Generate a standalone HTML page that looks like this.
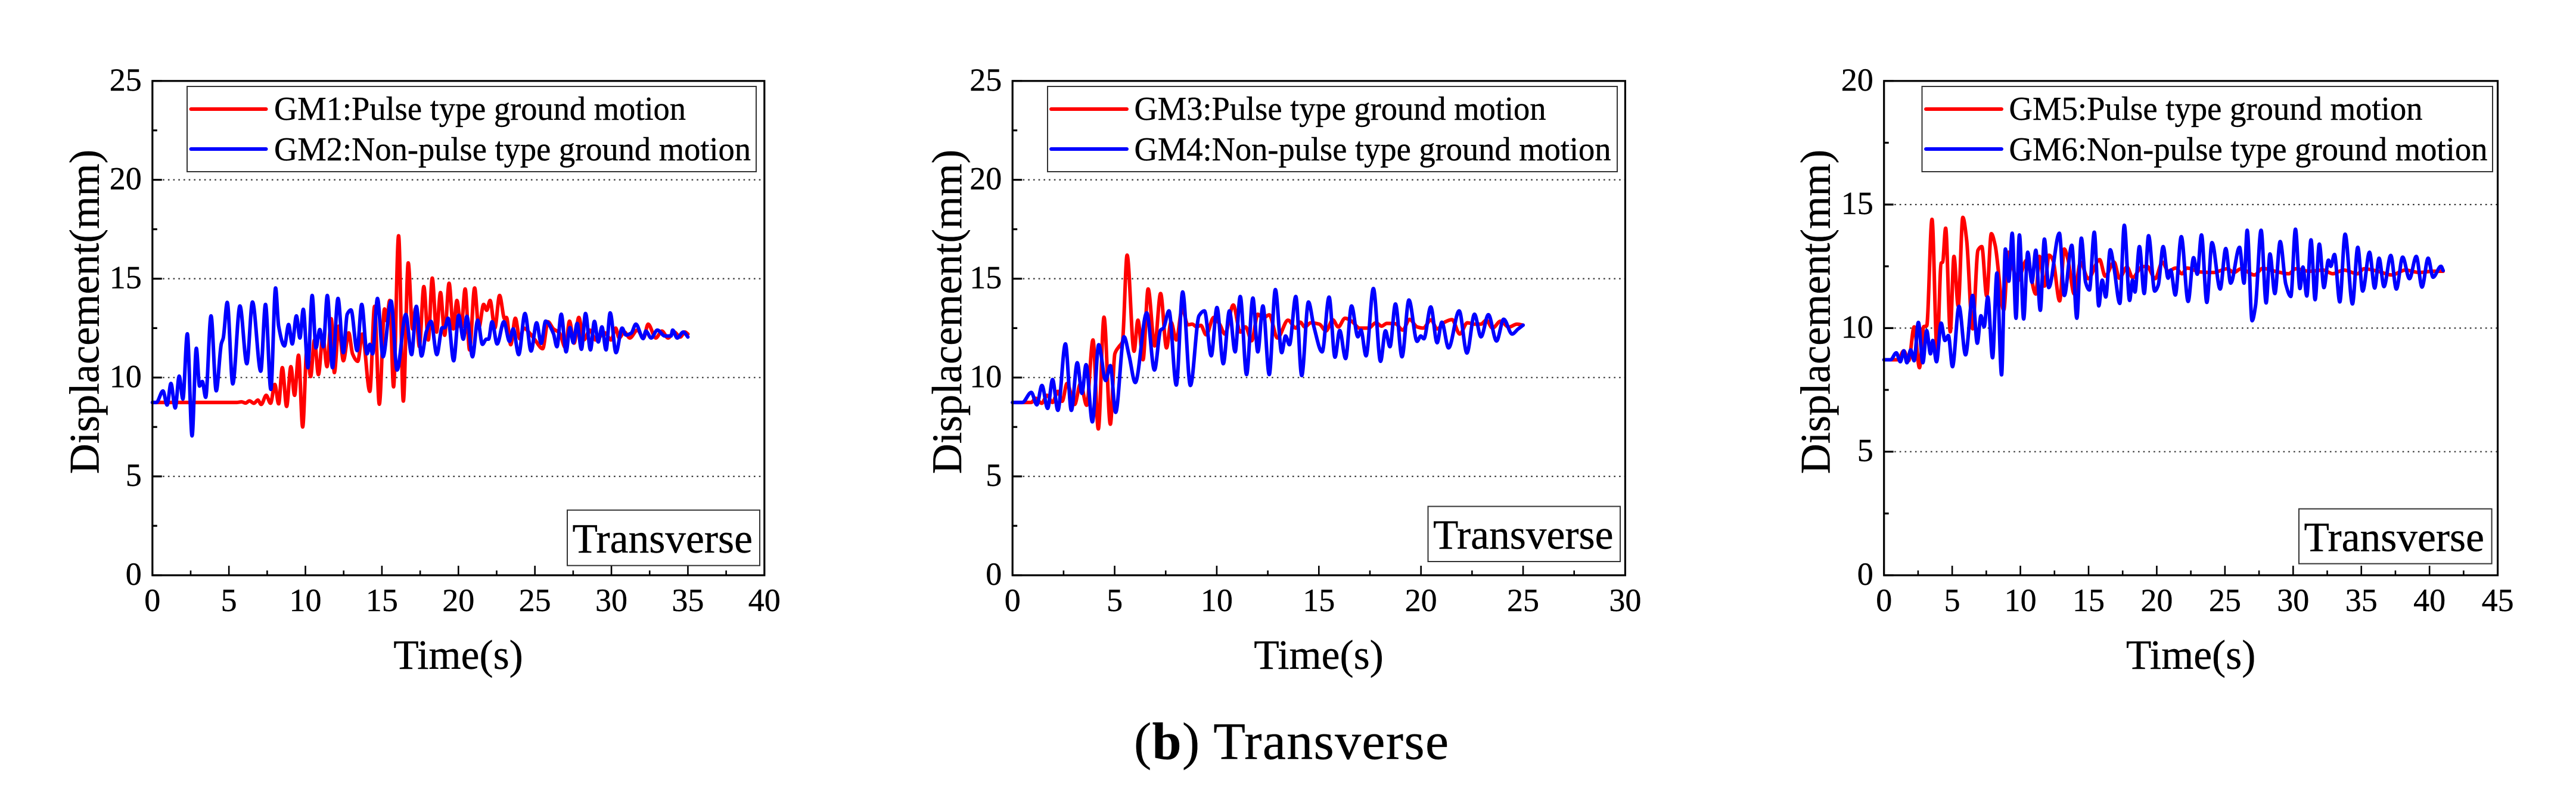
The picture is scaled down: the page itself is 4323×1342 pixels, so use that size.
<!DOCTYPE html>
<html lang="en">
<head>
<meta charset="utf-8">
<title>Transverse displacement time histories</title>
<style>
html,body{margin:0;padding:0;background:#fff;}
svg{display:block;font-family:"Liberation Serif",serif;}
text{fill:#000;stroke:#000;stroke-width:0.4;}
.leg{font-size:56.5px;}
.tr{font-size:69.5px;}
.ax{font-size:69.5px;}
.ayt{font-size:70.5px;}
.box{fill:#fff;stroke:#333;stroke-width:2;}
.tick{font-size:54px;}
</style>
</head>
<body>
<svg id="figure" width="4323" height="1342" viewBox="0 0 4323 1342" xmlns="http://www.w3.org/2000/svg">
  <rect width="4323" height="1342" fill="#fff"/>

  <g id="panel-1">
    <g id="p1-grid"></g>
    <g id="p1-series"></g>
    <rect id="p1-frame" x="255.8" y="135.8" width="1027" height="829.2" fill="none" stroke="#000" stroke-width="3.2"/>
    <g id="p1-ticks"></g>
    <g>
      <rect class="box" x="314" y="145" width="955" height="143"/>
      <line x1="320.5" x2="446.5" y1="183" y2="183" stroke="#f00" stroke-width="6" stroke-linecap="round"/>
      <text class="leg" x="460" y="201" textLength="691" lengthAdjust="spacingAndGlyphs">GM1:Pulse type ground motion</text>
      <line x1="320.5" x2="446.5" y1="250" y2="250" stroke="#00f" stroke-width="6" stroke-linecap="round"/>
      <text class="leg" x="460" y="269" textLength="800" lengthAdjust="spacingAndGlyphs">GM2:Non-pulse type ground motion</text>
    </g>
    <rect class="box" x="952" y="855.7" width="323" height="93"/>
    <text class="tr" x="960.5" y="927">Transverse</text>
    <text class="ayt" transform="translate(165.5 523) rotate(-90)" text-anchor="middle">Displacement(mm)</text>
    <text class="ax" x="769" y="1122" text-anchor="middle">Time(s)</text>
  </g>

  <g id="panel-2">
    <g id="p2-grid"></g>
    <g id="p2-series"></g>
    <rect x="1699.2" y="135.8" width="1028.2" height="829.2" fill="none" stroke="#000" stroke-width="3.2"/>
    <g id="p2-ticks"></g>
    <g>
      <rect class="box" x="1758" y="145" width="956" height="143"/>
      <line x1="1764" x2="1891" y1="183" y2="183" stroke="#f00" stroke-width="6" stroke-linecap="round"/>
      <text class="leg" x="1903.5" y="201" textLength="691" lengthAdjust="spacingAndGlyphs">GM3:Pulse type ground motion</text>
      <line x1="1764" x2="1891" y1="250" y2="250" stroke="#00f" stroke-width="6" stroke-linecap="round"/>
      <text class="leg" x="1903.5" y="269" textLength="800" lengthAdjust="spacingAndGlyphs">GM4:Non-pulse type ground motion</text>
    </g>
    <rect class="box" x="2396.5" y="849.5" width="322.5" height="92.5"/>
    <text class="tr" x="2405" y="920.5">Transverse</text>
    <text class="ayt" transform="translate(1613 523) rotate(-90)" text-anchor="middle">Displacement(mm)</text>
    <text class="ax" x="2213" y="1122" text-anchor="middle">Time(s)</text>
  </g>

  <g id="panel-3">
    <g id="p3-grid"></g>
    <g id="p3-series"></g>
    <rect x="3161.7" y="135.8" width="1029.9" height="829.2" fill="none" stroke="#000" stroke-width="3.2"/>
    <g id="p3-ticks"></g>
    <g>
      <rect class="box" x="3225.5" y="145" width="957.5" height="143"/>
      <line x1="3232" x2="3359" y1="183" y2="183" stroke="#f00" stroke-width="6" stroke-linecap="round"/>
      <text class="leg" x="3371.5" y="201" textLength="694" lengthAdjust="spacingAndGlyphs">GM5:Pulse type ground motion</text>
      <line x1="3232" x2="3359" y1="250" y2="250" stroke="#00f" stroke-width="6" stroke-linecap="round"/>
      <text class="leg" x="3371.5" y="269" textLength="803" lengthAdjust="spacingAndGlyphs">GM6:Non-pulse type ground motion</text>
    </g>
    <rect class="box" x="3858" y="853.6" width="323.6" height="92"/>
    <text class="tr" x="3866.5" y="924.5">Transverse</text>
    <text class="ayt" transform="translate(3070.5 523) rotate(-90)" text-anchor="middle">Displacement(mm)</text>
    <text class="ax" x="3676.6" y="1122" text-anchor="middle">Time(s)</text>
  </g>

  <text x="1903" y="1273" font-size="88" textLength="528">(<tspan font-weight="bold">b</tspan>) Transverse</text>
</svg>

<script>
// ---- Chart data (seconds, millimetres) ----
const gm1Time = [0,5.53,5.83,6.09,6.34,6.64,6.89,7.11,7.44,7.72,8.0,8.25,8.49,8.77,9.05,9.29,9.55,9.82,10.1,10.34,10.59,10.85,11.14,11.41,11.69,11.89,12.18,12.48,12.83,13.08,13.42,13.72,14.21,14.52,14.83,15.17,15.31,15.51,15.76,16.09,16.4,16.72,17.0,17.2,17.45,17.74,18.03,18.29,18.57,18.83,19.1,19.39,19.67,19.9,20.18,20.44,20.73,21.06,21.33,21.65,21.85,22.07,22.38,22.69,23.02,23.14,23.42,23.72,24.01,24.27,24.71,25.01,25.51,25.85,26.21,26.6,27.0,27.26,27.56,27.87,28.19,28.59,28.97,29.58,29.98,30.28,30.5,30.85,31.2,31.7,32.1,32.4,32.9,33.3,33.7,34.1,34.5,34.8,35];
const gm1Values = [8.74,8.74,8.77,8.71,8.82,8.7,8.86,8.64,9.1,8.7,9.65,8.67,10.5,8.54,10.55,9.1,11.13,7.5,11.5,10.05,11.9,10.15,12.1,10.55,12.97,10.25,12.6,10.85,12.26,11.2,10.82,12.2,9.3,13.6,8.65,13.47,12.87,13.9,9.53,17.17,8.81,15.8,12.46,13.5,11.56,14.6,11.9,15.03,12.3,14.3,12.14,14.77,12.46,13.9,12.5,14.48,11.4,14.53,12.5,13.7,13.4,13.9,12.5,14.15,12.97,13.04,11.66,13,11.96,12.5,12.2,11.9,11.46,12.82,12.46,12.26,11.5,12.85,11.74,13.04,11.9,12.4,11.9,12.26,11.9,12.5,12,12.3,12,12.4,12,12.7,12,12.35,12,12.3,12.05,12.3,12.2];

const gm2Time = [0,0.26,0.69,0.96,1.21,1.49,1.75,1.99,2.28,2.59,2.87,3.08,3.26,3.48,3.83,4.17,4.5,4.63,4.89,5.25,5.72,6.17,6.54,7.08,7.39,7.74,8.05,8.25,8.63,8.9,9.14,9.41,9.64,9.86,10.16,10.44,10.69,10.94,11.17,11.43,11.77,12.13,12.48,12.73,12.98,13.38,13.68,14.03,14.21,14.39,14.71,15.07,15.6,15.99,16.56,16.94,17.25,17.59,17.9,18.21,18.59,18.94,19.11,19.32,19.69,20.02,20.32,20.55,20.92,21.26,21.57,21.83,21.97,22.2,22.53,22.97,23.34,23.58,23.94,24.35,24.75,25.11,25.41,25.7,26.21,26.44,26.72,27.04,27.29,27.51,27.76,28.04,28.31,28.63,28.89,29.14,29.38,29.65,29.92,30.3,30.7,30.95,31.3,31.6,32.08,32.25,32.6,33,33.5,33.9,34.0,34.3,34.7,35];
const gm2Values = [8.74,8.74,9.32,8.61,9.7,8.46,10.07,8.91,12.21,7.05,11.48,9.57,9.8,9,13.12,9.33,11.7,12,13.8,9.68,13.62,10.7,13.82,10.32,13.7,9.4,14.53,12.6,11.6,12.68,11.7,13.12,12,13.45,10.5,14.15,11.5,12.43,11.56,14.15,10.5,14,11.26,13.2,13.42,11.36,13.7,11.2,11.68,11.2,14,11.05,13.87,10.38,13.19,11.16,13.6,11.09,12.31,12.84,11.16,12.52,12.52,13,10.85,13.15,11.94,13.1,11.05,12.9,11.68,11.94,11.94,12.82,11.7,12.82,11.83,12.46,11.16,13.24,11.34,12.77,11.73,12.85,12.23,11.56,13.2,11.3,12.53,11.76,12.74,11.43,13.24,11.4,12.84,11.8,12.56,11.4,13.27,11.26,12.5,12.15,12.25,12.7,11.97,12.35,12,12.4,12.1,12.1,12.4,12,12.3,12.05];

const gm3Time = [0,0.92,1.13,1.43,1.69,1.96,2.22,2.43,2.67,3.04,3.33,3.63,3.94,4.2,4.48,4.79,5.01,5.21,5.38,5.61,5.95,6.14,6.39,6.64,6.96,7.25,7.54,7.76,8.02,8.31,8.58,8.8,9.02,9.22,9.48,9.85,10.14,10.4,10.81,11.15,11.41,11.71,12.01,12.26,12.57,12.97,13.49,13.87,14.09,14.31,14.61,15.02,15.35,15.68,15.95,16.28,16.62,16.99,17.43,17.8,18.07,18.33,18.75,19.11,19.44,19.81,20.11,20.49,20.79,21.16,21.52,21.9,22.27,22.65,22.93,23.2,23.5,23.9,24.3,24.7,25];
const gm3Values = [8.74,8.74,8.95,8.7,9.1,8.74,9.3,8.8,9.7,8.64,9.7,8.6,11.9,7.4,13.05,7.64,11.2,11.56,11.8,16.19,11.33,12.9,10.9,14.48,11.6,14.25,11.5,12.8,11.9,13.5,12.67,12.7,12.56,12.64,12.16,13.04,12.7,12.2,13.67,12.3,12.56,11.86,13.2,13,13.17,12,12.9,12.5,12.8,12.56,12.77,12.7,12.36,12.92,12.56,13,12.84,12.5,12.5,12.77,12.6,12.74,12.72,12.4,12.94,12.56,12.5,12.92,12.46,12.8,12.93,12.2,12.77,12.7,12.7,12.9,12.5,12.85,12.55,12.7,12.65];

const gm4Time = [0,0.48,0.92,1.19,1.44,1.72,1.96,2.22,2.59,2.88,3.17,3.4,3.6,3.91,4.22,4.56,4.79,5.05,5.46,5.71,6.01,6.57,6.95,7.25,7.39,7.66,8.02,8.33,8.71,9.13,9.4,9.73,10.01,10.32,10.62,10.9,11.15,11.46,11.77,12.01,12.26,12.57,12.87,13.18,13.37,13.56,13.87,14.16,14.49,14.76,15.16,15.5,15.79,16.02,16.31,16.6,16.91,17.06,17.31,17.67,18.02,18.26,18.48,18.75,19.07,19.41,19.81,19.99,20.14,20.48,20.79,21.02,21.35,21.87,22.25,22.62,22.94,23.3,23.7,24.05,24.46,24.75,25];
const gm4Values = [8.74,8.74,9.25,8.62,9.6,8.44,9.9,8.34,11.7,8.34,10.75,9.2,10.65,7.76,11.66,9.85,10.6,8.24,12.06,11.1,9.75,13.27,10.38,12.4,12.5,13.37,9.62,14.33,9.6,13.12,13.37,11.1,13.54,10.7,13.37,11.3,14.1,10.15,14.02,11.3,13.62,10.15,14.45,11.26,12.1,11.66,14.1,10.1,13.82,12.56,11.3,14.07,11.03,12.38,10.96,13.62,12.06,12.4,11.1,14.5,10.82,12.36,11.56,13.72,11.05,13.92,11.83,12.1,11.96,13.57,11.76,12.8,11.5,13.37,11.24,13.2,12.06,13.18,11.85,12.95,12.2,12.45,12.65];

const gm5Time = [0,1.04,1.45,1.81,2.21,2.6,2.91,3.13,3.52,3.89,4.19,4.3,4.52,4.86,5.13,5.44,5.78,6.06,6.5,6.89,7.17,7.53,7.87,8.15,8.78,9.12,9.78,10.46,11.13,11.4,11.77,12.1,12.39,12.88,13.22,13.5,13.95,14.41,14.97,15.81,16.22,16.87,17.26,17.82,18.23,18.88,19.29,19.88,20.41,20.84,21.39,21.84,22.22,23.2,24.16,25.16,25.66,26.17,27.17,27.77,28.68,29.68,30.19,31.19,32.2,32.9,33.7,34.71,35.21,36.22,37.22,38.23,39.23,40.24,41];
const gm5Values = [8.72,8.72,9.08,8.68,10.05,8.4,10.06,10.09,14.4,9.04,12.63,12.67,14.04,9.85,12.9,10.9,14.48,13.56,9.97,13.15,13.3,11.3,13.82,13.35,10.73,13.07,11.9,12.75,11.38,12.9,11.7,12.95,12.75,11.1,13.2,12.75,11.38,12.67,12,12.77,12.1,12.67,12.02,12.47,12.04,12.47,12.5,12,12.67,12.3,12.43,12.2,12.43,12.27,12.25,12.4,12.25,12.4,12.15,12.42,12.3,12.2,12.4,12.3,12.35,12.2,12.35,12.2,12.4,12.3,12.15,12.35,12.25,12.3,12.3];

const gm6Time = [0,0.49,0.9,1.2,1.45,1.68,1.96,2.21,2.52,2.85,3.13,3.41,3.57,3.85,4.19,4.47,4.72,5.02,5.5,5.98,6.5,6.84,7.11,7.34,7.61,7.96,8.28,8.62,8.9,9.15,9.4,9.68,9.93,10.24,10.54,10.85,11.13,11.46,11.76,12.08,12.86,13.22,13.77,14.14,14.47,14.78,15.06,15.42,15.75,16.0,16.26,16.59,16.87,17.29,17.62,18.01,18.22,18.4,18.73,19.08,19.4,19.85,20.11,20.47,20.83,21.02,21.36,21.8,22.3,22.7,22.97,23.28,23.67,24.05,24.65,25.06,25.42,26.07,26.4,26.63,26.99,27.24,27.65,28.02,28.3,28.66,29.05,29.46,29.83,30.17,30.5,30.72,31.0,31.31,31.61,31.92,32.26,32.59,32.76,33.03,33.42,33.81,34.35,34.74,35.1,35.6,35.98,36.3,36.66,37.16,37.57,38.03,38.53,39.03,39.45,39.9,40.26,40.84,41];
const gm6Values = [8.72,8.72,9,8.64,9.08,8.6,9.12,8.68,10.23,8.6,9.9,8.96,9.5,8.64,10.2,9.5,9.7,8.44,10.88,8.92,11.32,9.39,10.5,10.05,11.26,8.8,12.23,8.11,13.2,11.9,13.84,10.4,13.77,10.37,13.07,11.85,13.15,10.72,13.6,11.64,13.84,11.32,13.35,10.4,13.64,11.86,11.54,13.88,10.9,11.94,11.26,13.17,12.43,11,14.16,11.12,11.94,11.46,13.3,11.4,13.74,11.5,11.74,13.3,12.02,12.35,11.34,13.7,11.08,12.85,12.18,13.77,11.04,13.46,11.58,13.22,11.82,13.27,11.82,13.96,10.3,10.9,13.96,11.02,13,11.4,13.5,11.78,11.28,14,11.6,12.47,11.3,13.57,11.15,13.4,11.64,12.75,12.5,12.98,11.06,13.8,10.98,13.27,11.5,13.07,11.62,12.83,11.68,12.94,11.58,12.87,12,12.9,11.66,12.83,12.06,12.5,12.33];

const xTickLabelsP1 = [0,5,10,15,20,25,30,35,40];
const xTickLabelsP2 = [0,5,10,15,20,25,30];
const xTickLabelsP3 = [0,5,10,15,20,25,30,35,40,45];
const yTickLabelsP1 = [0,5,10,15,20,25];
const yTickLabelsP2 = [0,5,10,15,20,25];
const yTickLabelsP3 = [0,5,10,15,20];

// ---- Drawing ----
const SVGNS = 'http://www.w3.org/2000/svg';
const plotTop = 135.8;
const plotBottom = 965;

function make(tag, attrs, parent) {
  const node = document.createElementNS(SVGNS, tag);
  for (const key in attrs) node.setAttribute(key, attrs[key]);
  parent.appendChild(node);
  return node;
}

function linearScale(d0, d1, r0, r1) {
  return function (v) { return r0 + (v - d0) * (r1 - r0) / (d1 - d0); };
}

function smoothPath(times, values, xAxis, yAxis) {
  const px = times.map(xAxis);
  const py = values.map(yAxis);
  const n = px.length;
  const slopes = [];
  for (let i = 0; i < n - 1; i++) slopes.push((py[i + 1] - py[i]) / (px[i + 1] - px[i]));
  const tangents = [slopes[0]];
  for (let i = 1; i < n - 1; i++) {
    const a = slopes[i - 1];
    const b = slopes[i];
    tangents.push(a * b <= 0 ? 0 : 2 * a * b / (a + b));
  }
  tangents.push(slopes[n - 2]);
  let d = 'M' + px[0].toFixed(2) + ' ' + py[0].toFixed(2);
  for (let i = 0; i < n - 1; i++) {
    const h = (px[i + 1] - px[i]) / 3;
    d += 'C' + (px[i] + h).toFixed(2) + ' ' + (py[i] + tangents[i] * h).toFixed(2) + ' ' +
      (px[i + 1] - h).toFixed(2) + ' ' + (py[i + 1] - tangents[i + 1] * h).toFixed(2) + ' ' +
      px[i + 1].toFixed(2) + ' ' + py[i + 1].toFixed(2);
  }
  return d;
}

function drawPanel(id, left, right, xTicks, yTicks, redName, redTime, redValues, blueName, blueTime, blueValues) {
  const xAxis = linearScale(xTicks[0], xTicks[xTicks.length - 1], left, right);
  const yAxis = linearScale(yTicks[0], yTicks[yTicks.length - 1], plotBottom, plotTop);
  const gridGroup = document.getElementById(id + '-grid');
  const seriesGroup = document.getElementById(id + '-series');
  const tickGroup = document.getElementById(id + '-ticks');

  yTicks.forEach(function (v, i) {
    const y = yAxis(v);
    if (i > 0 && i < yTicks.length - 1) {
      const grid = make('line', {x1: left, x2: right, y1: y, y2: y, stroke: '#333', 'stroke-width': 2.2, 'stroke-dasharray': '2.6 6.1'}, gridGroup);
      
      
    }
    const tick = make('line', {x1: left, x2: left + 16, y1: y, y2: y, stroke: '#000', 'stroke-width': 3.2}, tickGroup);
    
    
    const label = make('text', {class: 'tick', x: left - 18, y: y + 16, 'text-anchor': 'end'}, tickGroup);
    label.textContent = String(v);
    
    
    if (i < yTicks.length - 1) {
      const ym = yAxis((v + yTicks[i + 1]) / 2);
      const minor = make('line', {x1: left, x2: left + 8, y1: ym, y2: ym, stroke: '#000', 'stroke-width': 3.2}, tickGroup);
      
      
    }
  });

  xTicks.forEach(function (v, i) {
    const x = xAxis(v);
    const tick = make('line', {x1: x, x2: x, y1: plotBottom, y2: plotBottom - 16, stroke: '#000', 'stroke-width': 2.6}, tickGroup);
    
    
    const label = make('text', {class: 'tick', x: x, y: 1025, 'text-anchor': 'middle'}, tickGroup);
    label.textContent = String(v);
    
    
    if (i < xTicks.length - 1) {
      const xm = xAxis((v + xTicks[i + 1]) / 2);
      const minor = make('line', {x1: xm, x2: xm, y1: plotBottom, y2: plotBottom - 8, stroke: '#000', 'stroke-width': 2.6}, tickGroup);
      
      
    }
  });

  const redLine = make('path', {d: smoothPath(redTime, redValues, xAxis, yAxis), fill: 'none', stroke: '#f00', 'stroke-width': 6, 'stroke-linejoin': 'round', 'stroke-linecap': 'round'}, seriesGroup);
  
  

  const blueLine = make('path', {d: smoothPath(blueTime, blueValues, xAxis, yAxis), fill: 'none', stroke: '#00f', 'stroke-width': 6, 'stroke-linejoin': 'round', 'stroke-linecap': 'round'}, seriesGroup);
  
  
}

drawPanel('p1', 255.8, 1282.8, xTickLabelsP1, yTickLabelsP1, 'series-gm1', gm1Time, gm1Values, 'series-gm2', gm2Time, gm2Values);
drawPanel('p2', 1699.2, 2727.4, xTickLabelsP2, yTickLabelsP2, 'series-gm3', gm3Time, gm3Values, 'series-gm4', gm4Time, gm4Values);
drawPanel('p3', 3161.7, 4191.6, xTickLabelsP3, yTickLabelsP3, 'series-gm5', gm5Time, gm5Values, 'series-gm6', gm6Time, gm6Values);
</script>
</body>
</html>
